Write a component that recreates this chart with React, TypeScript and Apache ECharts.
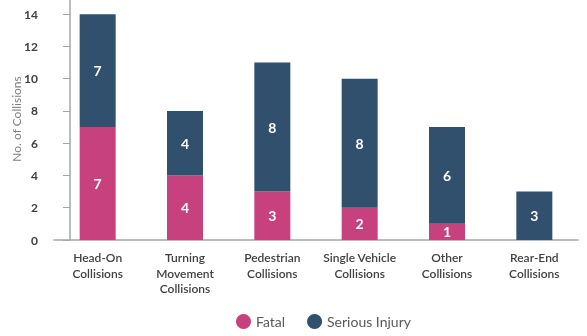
import React, { useEffect, useRef } from "react";
import * as echarts from "echarts";

const categories = [
  "Head-On\nCollisions",
  "Turning\nMovement\nCollisions",
  "Pedestrian\nCollisions",
  "Single Vehicle\nCollisions",
  "Other\nCollisions",
  "Rear-End\nCollisions",
];
const fatal = [7, 4, 3, 2, 1, 0];
const serious = [7, 4, 8, 8, 6, 3];
const yTicks = [0, 2, 4, 6, 8, 10, 12, 14];

const FONT = "Lato, 'Open Sans', sans-serif";

export default function App() {
  const ref = useRef<HTMLDivElement>(null);
  useEffect(() => {
    if (!ref.current) return;
    const chart = echarts.init(ref.current, null, { renderer: "svg" });
    const labelStyle = {
      show: true,
      position: "inside",
      color: "#ffffff",
      fontWeight: "bold",
      fontSize: 14,
      fontFamily: FONT,
      formatter: (p: any) => (p.value === 0 ? "" : String(p.value)),
    };
    chart.setOption({
      animation: false,
      textStyle: { fontFamily: FONT },
      grid: {
        left: 54,
        right: 9,
        top: -2,
        bottom: 96,
        containLabel: false,
        outerBoundsMode: "none",
      },
      legend: {
        bottom: 2,
        left: 231,
        icon: "circle",
        itemWidth: 15,
        itemHeight: 15,
        itemGap: 22,
        textStyle: { color: "#595959", fontSize: 14, fontFamily: FONT },
        data: ["Fatal", "Serious Injury"],
      },
      xAxis: {
        type: "category",
        data: categories,
        axisLine: { lineStyle: { color: "#a6a6a6", width: 1.5 } },
        axisTick: { show: false },
        axisLabel: {
          color: "#404040",
          fontSize: 12,
          fontWeight: 600,
          lineHeight: 15.5,
          margin: 10,
          interval: 0,
          fontFamily: FONT,
        },
      },
      yAxis: {
        type: "value",
        min: 0,
        max: 15,
        interval: 2,
        offset: -16,
        name: "No. of Collisions",
        nameLocation: "middle",
        nameGap: 48,
        nameMoveOverlap: false,
        nameTextStyle: { color: "#7f7f7f", fontSize: 12, fontFamily: FONT },
        splitLine: { show: false },
        axisLine: { show: true, lineStyle: { color: "#a6a6a6", width: 1.5 } },
        axisTick: { show: true, length: 7, lineStyle: { color: "#a6a6a6" } },
        axisLabel: {
          color: "#404040",
          fontSize: 12,
          fontWeight: "bold",
          margin: 32,
          fontFamily: FONT,
          formatter: (v: number) => (yTicks.includes(v) ? String(v) : ""),
        },
      },
      series: [
        {
          name: "Fatal",
          type: "bar",
          stack: "total",
          data: fatal,
          barWidth: 36,
          itemStyle: { color: "#c8417f" },
          label: labelStyle,
        },
        {
          name: "Serious Injury",
          type: "bar",
          stack: "total",
          data: serious,
          barWidth: 36,
          itemStyle: { color: "#31506e" },
          label: labelStyle,
        },
      ],
    });
    return () => chart.dispose();
  }, []);
  return <div ref={ref} style={{ width: 587, height: 336, position: "fixed", left: 0, top: 0 }} />;
}
